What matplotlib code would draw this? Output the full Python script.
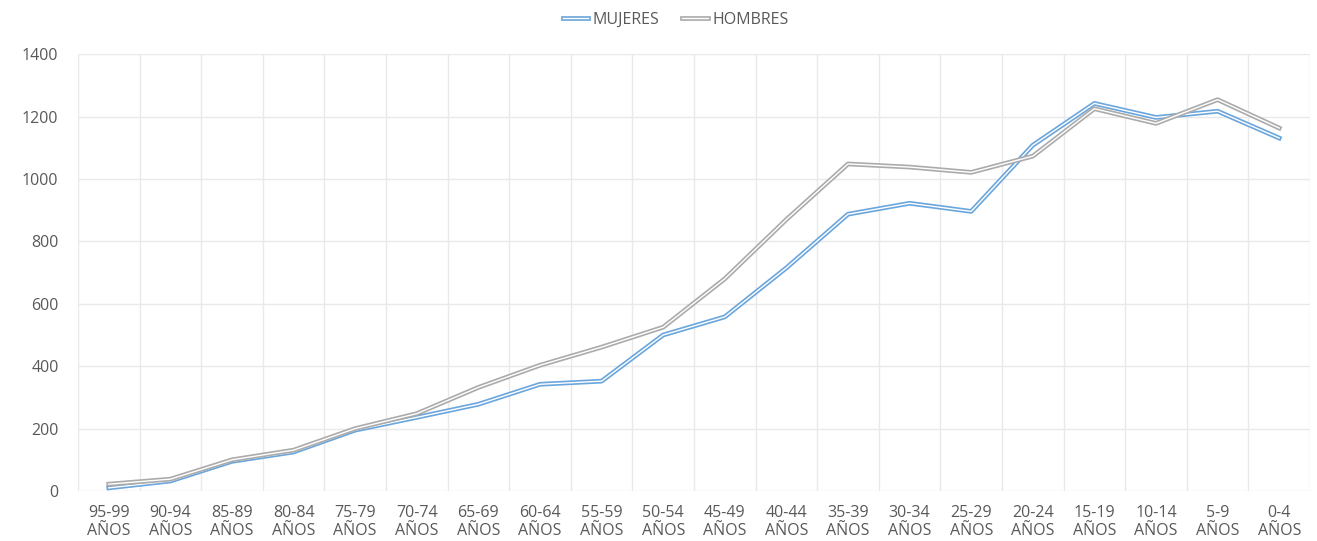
import numpy as np
from matplotlib import pyplot as plt
from matplotlib import patheffects as pe

plt.rcParams['font.family'] = ['Open Sans', 'DejaVu Sans']

grupos = ['95-99', '90-94', '85-89', '80-84', '75-79', '70-74', '65-69', '60-64',
          '55-59', '50-54', '45-49', '40-44', '35-39', '30-34', '25-29', '20-24',
          '15-19', '10-14', '5-9', '0-4']
mujeres = [10, 32, 95, 125, 195, 236, 278, 342, 352, 500, 558, 715, 887, 922,
           896, 1108, 1242, 1197, 1217, 1131]
hombres = [22, 38, 100, 131, 200, 248, 332, 403, 461, 525, 680, 870, 1048, 1038,
           1021, 1073, 1225, 1178, 1254, 1163]

azul = '#6AA6DC'
gris = '#ABABAB'
texto = '#595959'

fig = plt.figure(figsize=(13.17, 5.41), dpi=100)
ax = fig.add_axes([0.0592, 0.0924, 0.9355, 0.8076])

x = np.arange(len(grupos))
for serie, color, nombre in [(mujeres, azul, 'MUJERES'), (hombres, gris, 'HOMBRES')]:
    ax.plot(x, serie, color='white', lw=1.0, label=nombre, solid_joinstyle='round',
            path_effects=[pe.Stroke(linewidth=3.4, foreground=color), pe.Normal()])

ax.set_xlim(-0.5, len(grupos) - 0.5)
ax.set_ylim(0, 1400)
ax.set_yticks(range(0, 1401, 200))
ax.set_xticks(x)
ax.set_xticklabels([g + '\nAÑOS' for g in grupos], linespacing=1.2)
ax.set_xticks(np.arange(-0.5, len(grupos)), minor=True)

ax.grid(True, axis='y', color='#e9e9e9', lw=1)
ax.grid(True, axis='x', which='minor', color='#e9e9e9', lw=1)
ax.grid(False, axis='x', which='major')
ax.set_axisbelow(True)
for s in ax.spines.values():
    s.set_visible(False)
ax.tick_params(axis='both', which='both', length=0, colors=texto, labelsize=11.5)
ax.tick_params(axis='x', pad=10)
ax.tick_params(axis='y', pad=14)

fig.legend(loc='center', bbox_to_anchor=(0.513, 0.963), ncol=2, frameon=False,
           handlelength=1.6, handletextpad=0.3, columnspacing=1.4,
           labelcolor=texto, prop={'size': 11.5})

fig.savefig('out.png', dpi=100, facecolor='white')
